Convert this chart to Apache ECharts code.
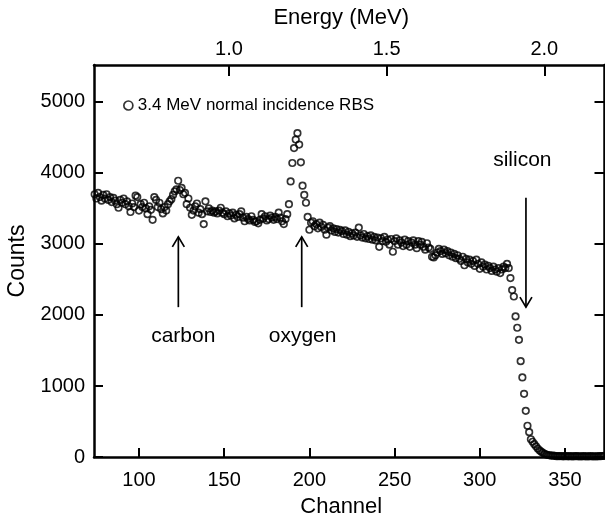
<!DOCTYPE html>
<html><head><meta charset="utf-8">
<script src="https://cdn.jsdelivr.net/npm/echarts@6/dist/echarts.min.js"></script>
<style>html,body{margin:0;padding:0;background:#fff}#c{width:605px;height:521px}</style>
</head><body><div id="c"></div>
<script>
const seriesName = '3.4 MeV normal incidence RBS';
const firstChannel = 74;
const counts = [
3700,3640,3720,3660,3610,3690,3640,3700,3620,3660,
3590,3650,3610,3560,3510,3620,3580,3640,3560,3600,
3530,3450,3570,3520,3680,3660,3470,3560,3520,3580,
3500,3420,3530,3480,3340,3660,3620,3520,3580,3490,
3430,3520,3470,3560,3600,3630,3690,3740,3770,3890,
3760,3790,3700,3720,3560,3640,3510,3410,3470,3530,
3570,3440,3490,3420,3280,3600,3460,3500,3450,3470,
3440,3460,3430,3470,3510,3440,3420,3460,3390,3430,
3400,3440,3360,3410,3380,3420,3460,3370,3320,3380,
3350,3330,3390,3340,3310,3320,3290,3340,3420,3360,
3390,3330,3350,3400,3370,3340,3380,3350,3440,3370,
3320,3280,3350,3420,3560,3880,4140,4350,4470,4560,
4400,4150,3820,3690,3580,3380,3200,3300,3320,3250,
3280,3220,3300,3240,3270,3200,3130,3230,3250,3190,
3220,3170,3210,3160,3200,3180,3140,3190,3130,3170,
3110,3150,3120,3160,3100,3230,3120,3090,3140,3080,
3110,3070,3120,3060,3100,3050,3090,2960,3080,3040,
3100,3030,3060,2990,3070,2890,3040,3080,2990,3050,
3020,2970,3060,2990,3040,2960,3020,3050,2990,2940,
3040,2990,3030,2960,2920,3010,2950,2930,2820,2810,
2840,2880,2930,2900,2860,2920,2870,2900,2840,2880,
2820,2860,2800,2840,2790,2760,2820,2700,2790,2740,
2780,2720,2760,2690,2780,2720,2650,2740,2680,2710,
2640,2690,2660,2620,2680,2640,2610,2660,2590,2640,
2680,2660,2720,2660,2520,2350,2260,1980,1820,1650,
1350,1120,890,650,440,350,250,215,180,150,
120,95,75,60,45,35,28,24,20,18,
16,12,11,13,12,10,11,12,10,11,
9,10,12,11,10,9,10,11,10,9,
10,11,10,9,10,10,11,12,14,15
];
const channelTicks = [100,150,200,250,300,350];
const energyTicks = [1.0,1.5,2.0];
const countTicks = [0,1000,2000,3000,4000,5000];
const channelRange = [73.6, 373.2];
const energyRange = [0.5718, 2.191];
const countRange = [0, 5520];

const annotationLabels = ['carbon','oxygen','silicon'];
const arrowChannel = [123.1, 195.5, 327.1];
const arrowFrom = [2110, 2110, 3650];
const arrowTo = [3100, 3100, 2110];
const labelChannel = [126, 196, 325];
const labelCount = [1700, 1700, 4180];

const FONT = '"Liberation Sans", Arial, Helvetica, sans-serif';
const points = counts.map((v, i) => [firstChannel + i, v]);
const annotations = annotationLabels.map((t, i) => [arrowChannel[i], arrowFrom[i], arrowTo[i], labelChannel[i], labelCount[i], t]);

const axisLine = {show: true, onZero: false, lineStyle: {color: '#000', width: 2.5}};
const chart = echarts.init(document.getElementById('c'), null, {renderer: 'canvas'});
chart.setOption({
  animation: false,
  backgroundColor: '#fff',
  textStyle: {fontFamily: FONT},
  grid: {left: 94, top: 65, right: 0.5, bottom: 64, containLabel: false, outerBoundsMode: 'none'},
  legend: {
    data: [seriesName], left: 118, top: 92, icon: 'circle', itemWidth: 9, itemHeight: 9, itemGap: 5,
    itemStyle: {color: '#fff', borderColor: '#000', borderWidth: 1.7},
    textStyle: {fontFamily: FONT, fontSize: 17, color: '#000'}
  },
  xAxis: [{
    type: 'value', position: 'bottom', min: channelRange[0], max: channelRange[1],
    axisLine, splitLine: {show: false},
    axisTick: {show: true, inside: true, length: 9, customValues: channelTicks, lineStyle: {color: '#000', width: 2}},
    axisLabel: {customValues: channelTicks, margin: 13, fontSize: 20, color: '#000', fontFamily: FONT},
    name: 'Channel', nameLocation: 'middle', nameGap: 39,
    nameTextStyle: {fontSize: 22, color: '#000', fontFamily: FONT, padding: [0, 16, 0, 0]}
  }, {
    type: 'value', position: 'top', min: energyRange[0], max: energyRange[1],
    axisLine, splitLine: {show: false},
    axisTick: {show: true, inside: true, length: 11, customValues: energyTicks, lineStyle: {color: '#000', width: 2}},
    axisLabel: {customValues: energyTicks, margin: 6, fontSize: 20, color: '#000', fontFamily: FONT, formatter: v => v.toFixed(1)},
    name: 'Energy (MeV)', nameLocation: 'middle', nameGap: 36,
    nameTextStyle: {fontSize: 22, color: '#000', fontFamily: FONT, padding: [0, 16, 0, 0]}
  }],
  yAxis: [{
    type: 'value', position: 'left', min: countRange[0], max: countRange[1],
    axisLine, splitLine: {show: false},
    axisTick: {show: true, inside: true, length: 9, customValues: countTicks, lineStyle: {color: '#000', width: 2}},
    axisLabel: {customValues: countTicks, margin: 9, fontSize: 20, color: '#000', fontFamily: FONT, formatter: v => String(v)},
    name: 'Counts', nameLocation: 'middle', nameGap: 61, nameRotate: 90,
    nameTextStyle: {fontSize: 23, color: '#000', fontFamily: FONT}
  }, {
    type: 'value', position: 'right', min: countRange[0], max: countRange[1],
    axisLine, splitLine: {show: false},
    axisTick: {show: true, inside: true, length: 10, customValues: countTicks, lineStyle: {color: '#000', width: 2}},
    axisLabel: {show: false}
  }],
  series: [{
    name: seriesName, type: 'scatter', xAxisIndex: 0, yAxisIndex: 0,
    data: points, symbol: 'circle', symbolSize: 6.5, clip: true,
    itemStyle: {color: 'rgba(255,255,255,0)', borderColor: '#000', borderWidth: 1.7}
  }, {
    type: 'custom', xAxisIndex: 0, yAxisIndex: 0, data: annotations, clip: false, silent: true,
    encode: {x: 0, y: 1},
    renderItem: (params, api) => {
      const d = annotations[params.dataIndex];
      const p0 = api.coord([d[0], d[1]]);
      const p1 = api.coord([d[0], d[2]]);
      const lp = api.coord([d[3], d[4]]);
      const dir = p1[1] > p0[1] ? 1 : -1;
      const hl = 10, hw = 6;
      return {type: 'group', children: [
        {type: 'line', shape: {x1: p0[0], y1: p0[1], x2: p1[0], y2: p1[1]}, style: {stroke: '#000', lineWidth: 1.7}},
        {type: 'polyline', shape: {points: [[p1[0] - hw, p1[1] - dir * hl], [p1[0], p1[1]], [p1[0] + hw, p1[1] - dir * hl]]}, style: {stroke: '#000', fill: null, lineWidth: 1.7}},
        {type: 'text', x: lp[0], y: lp[1], style: {text: d[5], fill: '#000', font: '21px ' + FONT, textAlign: 'center', textVerticalAlign: 'middle'}}
      ]};
    }
  }]
});
</script></body></html>
